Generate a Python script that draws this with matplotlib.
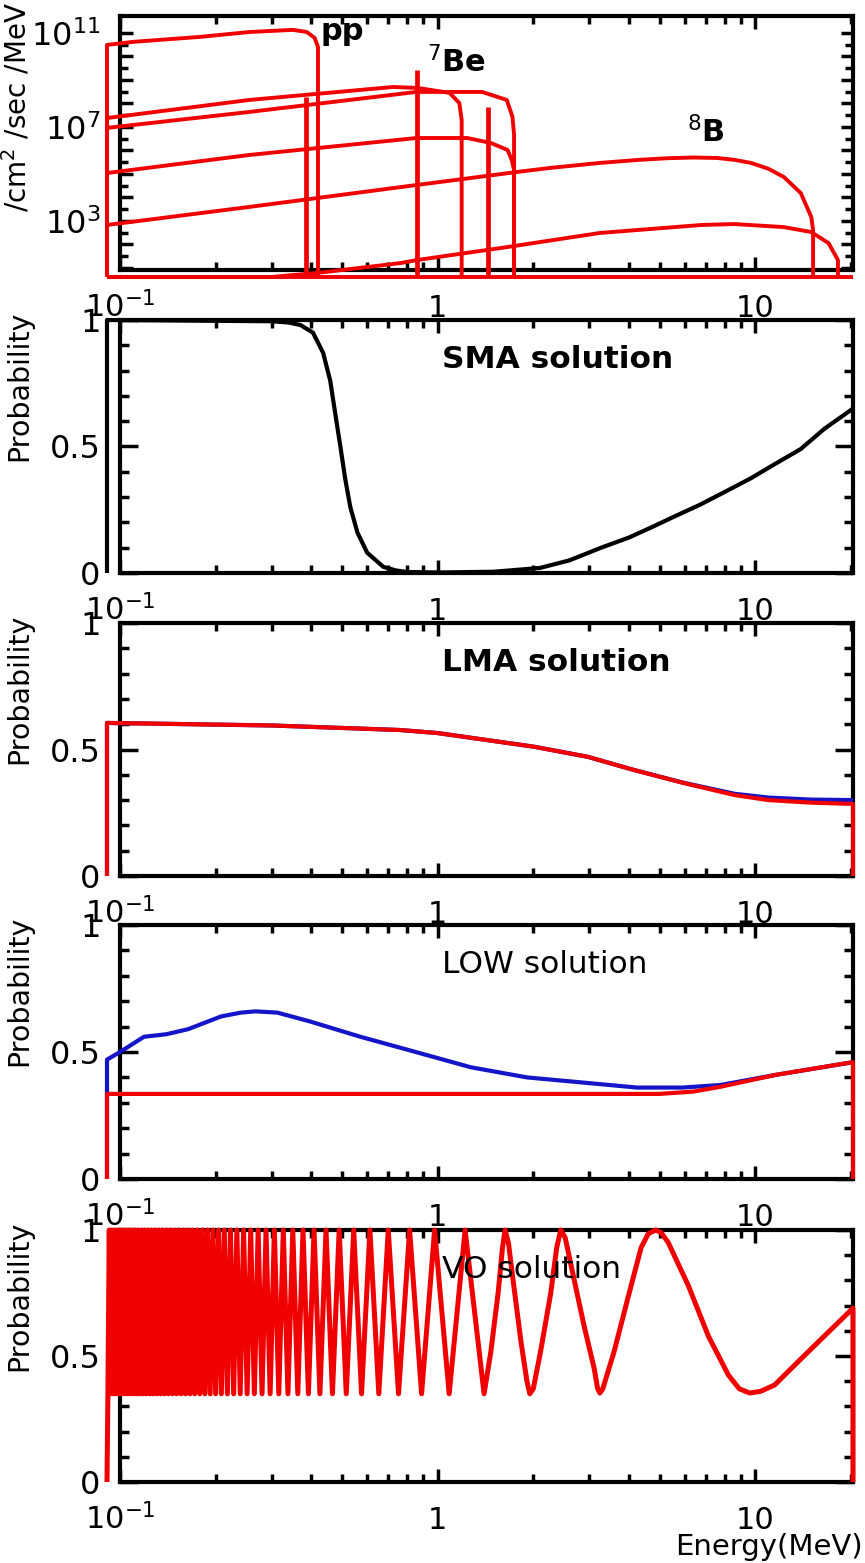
"""
Solar neutrino spectra (top) and survival probabilities for the four
oscillation solutions (SMA, LMA, LOW, VO), stacked on a common energy axis.
"""

import matplotlib

matplotlib.use("Agg")
import matplotlib.pyplot as plt
import numpy as np
from matplotlib.ticker import FixedLocator, NullFormatter

RED = "#f00000"
BLUE = "#1414c8"
BLACK = "#000000"

E_LO, E_HI = 0.1, 20.3
E_START = 0.091  # the histograms open just left of the frame

# ---- top panel: fluxes, log10( /cm^2 /sec /MeV ) ----
flux_floor = 0.62
pp_E = [0.091, 0.110, 0.178, 0.256, 0.35, 0.387, 0.41, 0.42]
pp_F = [10.49, 10.62, 10.83, 11.04, 11.13, 11.04, 10.79, 10.40]
n13_E = [0.091, 0.256, 0.723, 0.865, 1.09, 1.17, 1.19]
n13_F = [7.38, 8.15, 8.70, 8.66, 8.45, 8.02, 7.30]
o15_E = [0.091, 0.256, 0.858, 1.38, 1.65, 1.72, 1.74]
o15_F = [6.96, 7.64, 8.49, 8.49, 8.15, 7.43, 6.66]
f17_E = [0.091, 0.256, 0.858, 1.24, 1.47, 1.66, 1.71, 1.74]
f17_F = [5.04, 5.81, 6.53, 6.53, 6.32, 6.02, 5.60, 5.17]
b8_E = [0.091, 0.256, 0.858, 1.79, 2.27, 3.24, 4.3, 5.28, 6.4, 7.6, 8.6, 9.7, 11.0,
        12.3, 13.9, 15.0, 15.2]
b8_F = [2.83, 3.60, 4.53, 5.09, 5.26, 5.47, 5.60, 5.67, 5.70, 5.68, 5.60, 5.47, 5.22,
        4.87, 4.19, 3.17, 2.62]
hep_E = [0.091, 0.30, 0.418, 0.764, 0.862, 1.58, 3.24, 6.76, 8.58, 12.3, 15.0, 17.0, 18.2]
hep_F = [0.62, 0.62, 0.79, 1.21, 1.34, 1.85, 2.49, 2.83, 2.87, 2.74, 2.53, 2.06, 1.34]
line_E = [0.384, 0.862, 1.442]          # 7Be, 7Be, pep
line_F = [8.28, 9.43, 7.85]
flux_labels = ["pp", r"$^{7}$Be", r"$^{8}$B"]

# ---- SMA ----
sma_E = [0.091, 0.30, 0.34, 0.370, 0.405, 0.436, 0.459, 0.476, 0.494, 0.512, 0.531, 0.559,
         0.60, 0.675, 0.74, 0.80, 1.0, 1.5, 2.1, 2.6, 3.27, 4.0, 4.7, 5.6, 6.7, 8.0, 9.7,
         11.5, 13.9, 16.5, 20.3]
sma_P = [1.0, 0.995, 0.99, 0.98, 0.95, 0.87, 0.76, 0.63, 0.50, 0.37, 0.26, 0.16,
         0.08, 0.024, 0.01, 0.004, 0.002, 0.005, 0.02, 0.05, 0.10, 0.14, 0.18, 0.225, 0.27,
         0.32, 0.375, 0.43, 0.49, 0.57, 0.65]

# ---- LMA ----
lma_E = [0.091, 0.3, 0.762, 1.0, 2.01, 2.97, 4.15, 5.97, 8.6, 11.0, 15.0, 20.3]
lma_red = [0.605, 0.595, 0.577, 0.565, 0.511, 0.471, 0.419, 0.367, 0.320, 0.300, 0.290, 0.285]
lma_blue = [0.605, 0.595, 0.577, 0.565, 0.511, 0.471, 0.419, 0.368, 0.325, 0.310, 0.302, 0.300]

# ---- LOW ----
low_blue_E = [0.091, 0.1, 0.119, 0.140, 0.164, 0.208, 0.24, 0.267, 0.313, 0.397, 0.571, 0.853,
              1.27, 1.91, 2.85, 4.24, 5.89, 7.76, 11.6, 20.3]
low_blue = [0.47, 0.50, 0.56, 0.57, 0.59, 0.64, 0.655, 0.66, 0.655, 0.62, 0.56, 0.50,
            0.44, 0.40, 0.38, 0.36, 0.36, 0.37, 0.41, 0.46]
low_red_E = [0.091, 4.98, 6.37, 7.76, 11.6, 20.3]
low_red = [0.335, 0.335, 0.344, 0.363, 0.41, 0.46]

# ---- VO: turning points below 1.4 MeV (min, max, min, ...), then the broad arcs ----
vo_min, vo_max = 0.35, 1.0
vo_turn_E = [
    0.0916, 0.0925, 0.0934, 0.0943, 0.0952, 0.0961, 0.0971, 0.0980, 0.0990, 0.1000,
    0.1011, 0.1021, 0.1032, 0.1043, 0.1054, 0.1065, 0.1077, 0.1089, 0.1101, 0.1114,
    0.1127, 0.1140, 0.1153, 0.1167, 0.1181, 0.1195, 0.1210, 0.1225, 0.1241, 0.1257,
    0.1273, 0.1290, 0.1307, 0.1325, 0.1343, 0.1361, 0.1380, 0.1400, 0.1420, 0.1441,
    0.1463, 0.1485, 0.1508, 0.1531, 0.1556, 0.1581, 0.1607, 0.1633, 0.1661, 0.1690,
    0.1719, 0.1750, 0.1782, 0.1815, 0.1849, 0.1885, 0.1922, 0.1960, 0.2000, 0.2042,
    0.2085, 0.2130, 0.2178, 0.2227, 0.2279, 0.2333, 0.2390, 0.2450, 0.2513, 0.2579,
    0.2648, 0.2722, 0.2800, 0.2882, 0.2969, 0.3062, 0.3161, 0.3266, 0.3378, 0.3499,
    0.3628, 0.3768, 0.3918, 0.4082, 0.4259, 0.4452, 0.4664, 0.4897, 0.5155, 0.5441,
    0.5760, 0.6120, 0.6527, 0.699, 0.753, 0.816, 0.890, 0.978, 1.087, 1.22,
]
vo_arc_E = [1.40, 1.47, 1.55, 1.60, 1.63, 1.67, 1.72, 1.83, 1.91, 1.95, 2.0, 2.11, 2.27,
            2.37, 2.44, 2.52, 2.63, 2.89, 3.11, 3.19, 3.24, 3.31, 3.59, 3.97, 4.37, 4.6,
            4.85, 5.05, 5.32, 6.15, 7.11, 8.22, 8.9, 9.6, 10.4, 11.5, 13.96, 17.0, 20.3]
vo_arc_P = [0.35, 0.516, 0.75, 0.93, 1.0, 0.95, 0.82, 0.555, 0.40, 0.35, 0.37, 0.52, 0.75,
            0.93, 1.0, 0.97, 0.86, 0.62, 0.45, 0.37, 0.353, 0.37, 0.516, 0.73, 0.93, 0.985,
            1.0, 0.99, 0.95, 0.78, 0.58, 0.425, 0.37, 0.353, 0.36, 0.385, 0.49, 0.595, 0.69]

# figure geometry (pixels of the 865 x 1563 original)
W, H = 865, 1563
X0, X1 = 120, 853
PANELS = [(16, 270), (320, 573), (623, 876), (925, 1179), (1230, 1482)]


def outline(e, v, floor, close_right=True):
    """Histogram-like outline: up from the floor at the start, down at the end."""
    xs = [E_START] + list(e)
    ys = [floor] + list(v)
    if close_right:
        xs.append(e[-1])
        ys.append(floor)
    return xs, ys


def make_axes(fig, top, bottom):
    ax = fig.add_axes([X0 / W, 1 - bottom / H, (X1 - X0) / W, (bottom - top) / H])
    ax.set_xscale("log")
    ax.set_xlim(E_LO, E_HI)
    for spine in ax.spines.values():
        spine.set_linewidth(3)
    ax.set_xticks([0.1, 1, 10], labels=[r"$\mathregular{10^{-1}}$", "1", "10"])
    minors = [k * 10.0 ** d for d in (-1, 0, 1) for k in range(2, 10)]
    ax.xaxis.set_minor_locator(FixedLocator([m for m in minors if m < E_HI]))
    ax.xaxis.set_minor_formatter(NullFormatter())
    ax.tick_params(which="both", direction="in", top=True, right=True, width=2.5)
    ax.tick_params(axis="x", which="major", length=9.5, labelsize=22, pad=34)
    ax.tick_params(axis="x", which="minor", length=5.5)
    ax.tick_params(axis="y", labelsize=23, pad=14)
    for lab in ax.get_xticklabels():
        lab.set_verticalalignment("baseline")
    return ax


def prob_axes(fig, top, bottom, title, bold):
    ax = make_axes(fig, top, bottom)
    ax.set_ylim(0, 1)
    ax.set_yticks([0, 0.5, 1], labels=["0", "0.5", "1"])
    ax.yaxis.set_minor_locator(FixedLocator(np.arange(0.1, 1.0, 0.1)))
    ax.tick_params(axis="y", which="major", length=13)
    ax.tick_params(axis="y", which="minor", length=6.5)
    ax.set_ylabel("Probability", fontsize=20.5)
    ax.yaxis.set_label_coords(-0.119, 0.74)
    ax.text(0.439, 0.845, title, transform=ax.transAxes, fontsize=22.5,
            fontweight="bold" if bold else "normal", ha="left", va="center", zorder=5)
    return ax


def curve(ax, xs, ys, color, lw=2.8):
    ax.plot(xs, ys, color=color, lw=lw, clip_on=False, zorder=3,
            solid_joinstyle="round", solid_capstyle="butt")


fig = plt.figure(figsize=(W / 100, H / 100), dpi=100)

# ---- flux panel ----
ax = make_axes(fig, *PANELS[0])
ax.set_yscale("log")
ax.set_ylim(10 ** 0.915, 10 ** 11.72)
decades = [10.0 ** k for k in range(1, 12)]
ax.set_yticks(decades, labels=[r"$\mathregular{10^{%d}}$" % k if k in (3, 7, 11) else ""
                               for k in range(1, 12)])
ax.yaxis.set_minor_locator(FixedLocator([10.0 ** (k + 0.5) for k in range(1, 11)]))
ax.yaxis.set_minor_formatter(NullFormatter())
ax.tick_params(axis="y", which="major", length=9)
ax.tick_params(axis="y", which="minor", length=6)
ax.set_ylabel(r"/cm$^2$ /sec /MeV", fontsize=20)
ax.yaxis.set_label_coords(-0.119, 0.64)

floor = 10 ** flux_floor
curve(ax, [E_START, E_HI], [floor, floor], RED)
for e, f in [(pp_E, pp_F), (n13_E, n13_F), (o15_E, o15_F), (f17_E, f17_F),
             (b8_E, b8_F), (hep_E, hep_F)]:
    xs, ys = outline(e, 10 ** np.array(f), floor)
    curve(ax, xs, ys, RED)
for e, f in zip(line_E, line_F):
    curve(ax, [e, e], [floor, 10 ** f], RED, lw=3.4)
for text, (fx, fy) in zip(flux_labels, [(0.273, 0.94), (0.419, 0.82), (0.774, 0.543)]):
    ax.text(fx, fy, text, transform=ax.transAxes, fontsize=22, fontweight="bold",
            ha="left", va="center")

# ---- SMA ----
ax = prob_axes(fig, *PANELS[1], "SMA solution", True)
xs, ys = outline(sma_E, sma_P, 0.0, close_right=False)
curve(ax, xs, ys, BLACK, lw=3.0)

# ---- LMA ----
ax = prob_axes(fig, *PANELS[2], "LMA solution", True)
curve(ax, *outline(lma_E, lma_blue, 0.0, close_right=False), BLUE, lw=3.0)
curve(ax, *outline(lma_E, lma_red, 0.0), RED, lw=3.0)

# ---- LOW ----
ax = prob_axes(fig, *PANELS[3], "LOW solution", False)
curve(ax, *outline(low_blue_E, low_blue, 0.0, close_right=False), BLUE, lw=3.0)
curve(ax, *outline(low_red_E, low_red, 0.0), RED, lw=3.0)

# ---- VO ----
ax = prob_axes(fig, *PANELS[4], "VO solution", False)
vo_E = vo_turn_E + vo_arc_E
vo_P = [vo_min if i % 2 == 0 else vo_max for i in range(len(vo_turn_E))] + vo_arc_P
curve(ax, *outline(vo_E, vo_P, 0.0), RED, lw=3.6)

fig.text(0.997, 0.0105, "Energy(MeV)", fontsize=21, ha="right", va="center")

fig.savefig("out.png", dpi=100)
